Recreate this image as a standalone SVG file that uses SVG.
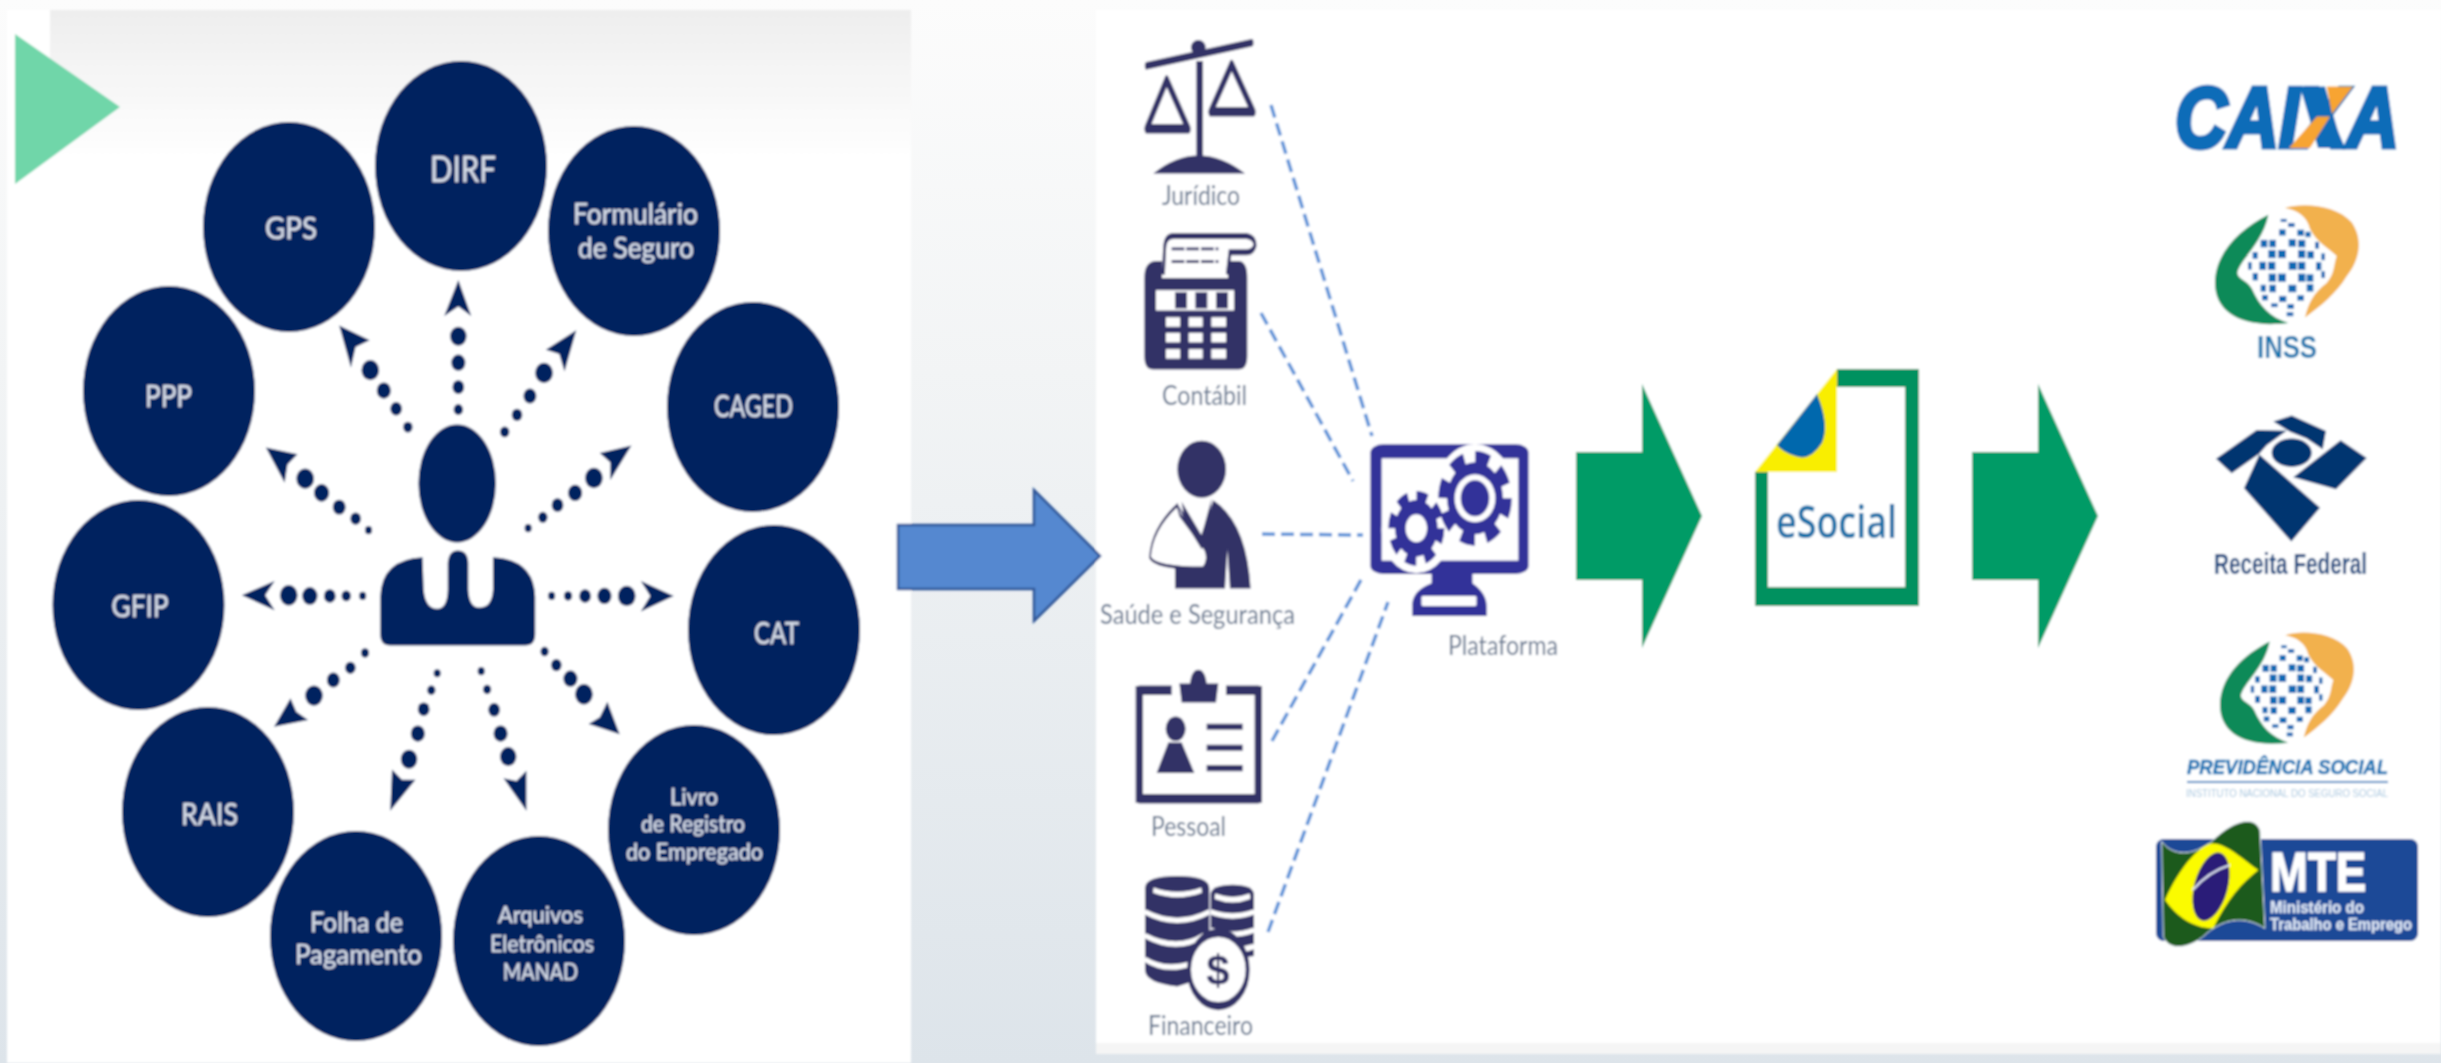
<svg xmlns="http://www.w3.org/2000/svg" xmlns:xlink="http://www.w3.org/1999/xlink" width="2441" height="1063" viewBox="0 0 2441 1063">
<style>
.c{fill:#00215f}
.d{fill:#00215f}
.t{font-family:Lato,"Open Sans",sans-serif;fill:#d6dbe6;stroke:#d6dbe6;stroke-width:.5}
.l{font-family:Lato,"Open Sans",sans-serif;fill:#65768f;font-size:27px}
.i{fill:#333366}
.is{fill:none;stroke:#333366}
.w{fill:#fff}
.g{fill:#059b66}
.m{fill:#333399}
.b{font-family:"Liberation Sans",Arial,sans-serif;font-weight:700}
.dash{fill:none;stroke:#5b93d8;stroke-width:3.5;stroke-dasharray:13 6}
.px{fill:#0f69b4}
</style>
<defs>
<linearGradient id="bg" x1="0" y1="0" x2="0" y2="1"><stop offset="0" stop-color="#fcfcfc"/><stop offset=".35" stop-color="#f2f4f5"/><stop offset="1" stop-color="#dde4ea"/></linearGradient>
<linearGradient id="top" x1="0" y1="0" x2="0" y2="1"><stop offset="0" stop-color="#eeeeee"/><stop offset="1" stop-color="#ffffff"/></linearGradient>
<filter id="soft" x="-2%" y="-2%" width="104%" height="104%"><feGaussianBlur stdDeviation="0.8"/></filter>
<g id="gear"><circle r=".76"/><circle r=".86" fill="none" stroke="#333399" stroke-width=".28" stroke-dasharray=".38 .2954"/></g>
<g id="globe">
<path d="M415,488C330,530 255,600 255,690C255,780 340,825 475,808C420,790 390,760 365,705C350,680 325,680 322,660C330,620 400,570 415,488Z" fill="#078a58"/>
<path d="M465,468C520,450 620,460 665,510C700,560 690,620 650,670C620,720 570,760 525,792C535,750 550,720 590,690C615,660 610,640 620,610C600,590 560,570 540,530C530,490 500,475 465,468Z" fill="#f2b14d"/>
<g class="px">
<rect x="452" y="500" width="18" height="9"/><rect x="474" y="512" width="20" height="12"/>
<rect x="447" y="531" width="20" height="18"/><rect x="502" y="532" width="20" height="18"/><rect x="526" y="538" width="16" height="16"/>
<rect x="392" y="562" width="20" height="22"/><rect x="418" y="562" width="20" height="22"/><rect x="476" y="560" width="22" height="22"/><rect x="504" y="562" width="22" height="22"/><rect x="555" y="568" width="12" height="20"/>
<rect x="368" y="598" width="15" height="20"/><rect x="415" y="592" width="22" height="24"/><rect x="444" y="592" width="24" height="24"/><rect x="504" y="592" width="22" height="24"/><rect x="532" y="595" width="20" height="22"/><rect x="574" y="602" width="11" height="20"/>
<rect x="354" y="628" width="11" height="22"/><rect x="388" y="627" width="20" height="24"/><rect x="414" y="627" width="22" height="24"/><rect x="476" y="627" width="24" height="24"/><rect x="504" y="627" width="22" height="24"/><rect x="558" y="628" width="16" height="24"/>
<rect x="368" y="660" width="16" height="22"/><rect x="416" y="662" width="22" height="24"/><rect x="444" y="662" width="24" height="24"/><rect x="504" y="662" width="22" height="24"/><rect x="530" y="664" width="20" height="22"/><rect x="574" y="655" width="11" height="20"/>
<rect x="392" y="695" width="16" height="20"/><rect x="418" y="695" width="20" height="22"/><rect x="475" y="695" width="24" height="22"/><rect x="530" y="693" width="20" height="22"/>
<rect x="396" y="725" width="18" height="16"/><rect x="447" y="728" width="22" height="18"/><rect x="502" y="726" width="20" height="16"/>
<rect x="423" y="750" width="20" height="11"/><rect x="472" y="752" width="20" height="14"/><rect x="470" y="776" width="20" height="12"/>
</g>
</g>
</defs>
<rect id="background" width="2441" height="1063" fill="url(#bg)"/>
<g filter="url(#soft)">
<g id="panel-left">
<rect x="7" y="10" width="904" height="1053" fill="#fff"/>
<rect x="50" y="10" width="861" height="150" fill="url(#top)"/>
<polygon points="15,34 120,107 15,184" fill="#6fd6a9"/>
</g>
<rect id="panel-right" x="1096" y="10" width="1345" height="1033" fill="#fff"/>
<rect x="1096" y="1043" width="1345" height="11" fill="#f5f5f5"/>

<g id="connectors">
<g transform="scale(.58685,.67797)" class="d">
<circle cx="781" cy="604" r="8"/><circle cx="781" cy="571" r="10"/><circle cx="781" cy="535" r="12"/><circle cx="781" cy="496" r="14"/><polygon points="781,413 803,466 781,452 757,466"/>
<circle cx="695" cy="630" r="8"/><circle cx="675" cy="603" r="10"/><circle cx="654" cy="576" r="12"/><circle cx="631" cy="546" r="15"/><polygon points="578,480 630,502 606,512 598,542"/>
<circle cx="860" cy="637" r="8"/><circle cx="881" cy="612" r="9"/><circle cx="903" cy="584" r="11"/><circle cx="927" cy="550" r="15"/><polygon points="982,487 930,516 953,522 962,548"/>
<circle cx="900" cy="779" r="6"/><circle cx="925" cy="763" r="8"/><circle cx="950" cy="745" r="10"/><circle cx="980" cy="727" r="12"/><circle cx="1012" cy="705" r="15"/><polygon points="1076,657 1022,668 1040,682 1040,708"/>
<circle cx="628" cy="782" r="6"/><circle cx="606" cy="765" r="9"/><circle cx="578" cy="748" r="11"/><circle cx="548" cy="727" r="13"/><circle cx="520" cy="706" r="15"/><polygon points="453,660 507,670 490,685 485,712"/>
<circle cx="618" cy="879" r="6"/><circle cx="590" cy="879" r="8"/><circle cx="562" cy="879" r="10"/><circle cx="528" cy="879" r="13"/><circle cx="492" cy="878" r="15"/><polygon points="412,878 468,857 452,878 468,900"/>
<circle cx="940" cy="879" r="6"/><circle cx="968" cy="879" r="7"/><circle cx="997" cy="879" r="10"/><circle cx="1030" cy="879" r="12"/><circle cx="1068" cy="879" r="15"/><polygon points="1148,879 1092,857 1108,879 1092,902"/>
<circle cx="622" cy="963" r="7"/><circle cx="597" cy="985" r="9"/><circle cx="568" cy="1003" r="11"/><circle cx="535" cy="1026" r="15"/><polygon points="467,1072 495,1030 505,1050 525,1062"/>
<circle cx="928" cy="961" r="7"/><circle cx="948" cy="981" r="9"/><circle cx="972" cy="1001" r="12"/><circle cx="995" cy="1024" r="15"/><polygon points="1056,1083 1035,1035 1022,1058 1003,1068"/>
<circle cx="745" cy="993" r="6"/><circle cx="735" cy="1018" r="7"/><circle cx="722" cy="1046" r="10"/><circle cx="712" cy="1082" r="12"/><circle cx="697" cy="1120" r="14"/><polygon points="665,1196 668,1135 685,1150 708,1150"/>
<circle cx="820" cy="990" r="6"/><circle cx="830" cy="1017" r="7"/><circle cx="842" cy="1047" r="10"/><circle cx="853" cy="1082" r="12"/><circle cx="866" cy="1116" r="14"/><polygon points="897,1196 897,1137 880,1152 858,1148"/>
</g>
<polygon id="arrow-blue" points="898,525 1034,525 1034,490 1100,556 1034,621 1034,589 898,589" fill="#5588d0" stroke="#2f5597" stroke-width="2.500"/>
<line class="dash" x1="1271" y1="105" x2="1372" y2="436"/>
<line class="dash" x1="1261" y1="313" x2="1353" y2="481"/>
<line class="dash" x1="1262" y1="534" x2="1363" y2="535"/>
<line class="dash" x1="1272" y1="741" x2="1362" y2="578"/>
<line class="dash" x1="1268" y1="932" x2="1388" y2="602"/>
<polygon class="g" points="1576,452 1642,452 1642,384 1702,516 1642,648 1642,580 1576,580"/>
<polygon class="g" points="1972,452 2038,452 2038,384 2098,516 2038,648 2038,580 1972,580"/>
</g>

<g id="employee" class="d" transform="scale(.58685,.67797)">
<ellipse cx="779" cy="713" rx="66" ry="87"/>
<path d="M648,935L648,880Q650,825 720,822L722,870Q725,898 745,898Q762,898 763,870L763,830Q765,812 780,812Q797,812 798,830L798,870Q800,898 818,896Q838,896 840,870L840,822Q910,825 912,880L912,935Q912,952 895,952L665,952Q648,952 648,935Z"/>
</g>

<g id="node-dirf"><ellipse class="c" cx="461" cy="166" rx="86" ry="105"/><text class="t" font-size="37" x="430" y="182" textLength="66" lengthAdjust="spacingAndGlyphs">DIRF</text></g>
<g id="node-gps"><ellipse class="c" cx="289" cy="227" rx="86" ry="105"/><text class="t" font-size="31" x="265" y="239" textLength="52" lengthAdjust="spacingAndGlyphs">GPS</text></g>
<g id="node-formulario"><ellipse class="c" cx="634" cy="231" rx="86" ry="105"/><text class="t" font-size="28" x="573" y="224" textLength="125" lengthAdjust="spacingAndGlyphs">Formulário</text><text class="t" font-size="28" x="578" y="258" textLength="116" lengthAdjust="spacingAndGlyphs">de Seguro</text></g>
<g id="node-caged"><ellipse class="c" cx="753" cy="407" rx="86" ry="105"/><text class="t" font-size="31" x="714" y="417" textLength="79" lengthAdjust="spacingAndGlyphs">CAGED</text></g>
<g id="node-ppp"><ellipse class="c" cx="169" cy="391" rx="86" ry="105"/><text class="t" font-size="31" x="145" y="407" textLength="47" lengthAdjust="spacingAndGlyphs">PPP</text></g>
<g id="node-gfip"><ellipse class="c" cx="138.500" cy="605" rx="86" ry="105"/><text class="t" font-size="31" x="111.500" y="617" textLength="57" lengthAdjust="spacingAndGlyphs">GFIP</text></g>
<g id="node-cat"><ellipse class="c" cx="774" cy="630" rx="86" ry="105"/><text class="t" font-size="31" x="754" y="644" textLength="45" lengthAdjust="spacingAndGlyphs">CAT</text></g>
<g id="node-rais"><ellipse class="c" cx="208" cy="812" rx="86" ry="105"/><text class="t" font-size="31" x="181" y="825" textLength="57" lengthAdjust="spacingAndGlyphs">RAIS</text></g>
<g id="node-livro"><ellipse class="c" cx="694" cy="830" rx="86" ry="105"/><text class="t" font-size="23" x="670" y="805" textLength="48" lengthAdjust="spacingAndGlyphs">Livro</text><text class="t" font-size="23" x="641" y="832" textLength="104" lengthAdjust="spacingAndGlyphs">de Registro</text><text class="t" font-size="23" x="626" y="860" textLength="137" lengthAdjust="spacingAndGlyphs">do Empregado</text></g>
<g id="node-folha"><ellipse class="c" cx="356" cy="936" rx="86" ry="105"/><text class="t" font-size="27" x="310" y="932" textLength="93" lengthAdjust="spacingAndGlyphs">Folha de</text><text class="t" font-size="27" x="295" y="964" textLength="127" lengthAdjust="spacingAndGlyphs">Pagamento</text></g>
<g id="node-arquivos"><ellipse class="c" cx="539" cy="941" rx="86" ry="105"/><text class="t" font-size="23" x="498" y="923" textLength="85" lengthAdjust="spacingAndGlyphs">Arquivos</text><text class="t" font-size="23" x="490" y="952" textLength="104" lengthAdjust="spacingAndGlyphs">Eletrônicos</text><text class="t" font-size="23" x="503" y="980" textLength="75" lengthAdjust="spacingAndGlyphs">MANAD</text></g>

<g id="node-juridico">
<g transform="translate(1090,0) scale(.33333,.67797)">
<path class="is" stroke-width="11" stroke-linecap="round" d="M170,97L485,63"/>
<ellipse class="i" cx="325" cy="70" rx="22" ry="11"/>
<rect class="i" x="319" y="90" width="20" height="140"/>
<path class="i" d="M190,256Q325,203 465,256Z"/>
<path class="is" stroke-width="14" stroke-linejoin="round" d="M230,118L170,190L295,190Z"/>
<path class="is" stroke-width="14" stroke-linejoin="round" d="M425,95L362,165L490,165Z"/>
</g>
<text class="l" x="1162" y="205" textLength="78" lengthAdjust="spacingAndGlyphs">Jurídico</text>
</g>
<g id="node-contabil">
<g transform="translate(1090,0) scale(.33333,.67797)">
<path class="is" stroke-width="9" d="M220,405L224,365Q226,348 250,348L470,348Q495,350 495,362Q490,372 470,372L420,372L412,405"/>
<path class="is" stroke-width="4" stroke-dasharray="38 6" d="M245,367H385M245,386H385"/>
<path class="i" d="M163,410Q163,385 200,385L216,385L216,410L414,410L414,385L445,385Q472,385 472,410L472,525Q472,545 445,545L190,545Q163,545 163,525Z"/>
<rect class="w" x="198" y="428" width="234" height="30"/>
<rect class="i" x="255" y="431" width="36" height="24"/><rect class="i" x="316" y="431" width="36" height="24"/><rect class="i" x="378" y="431" width="36" height="24"/>
<g class="w"><rect x="228" y="468" width="42" height="14"/><rect x="296" y="468" width="42" height="14"/><rect x="364" y="468" width="44" height="14"/><rect x="228" y="491" width="42" height="14"/><rect x="296" y="491" width="42" height="14"/><rect x="364" y="491" width="44" height="14"/><rect x="228" y="515" width="42" height="14"/><rect x="296" y="515" width="42" height="14"/><rect x="364" y="515" width="44" height="14"/></g>
</g>
<text class="l" x="1162" y="405" textLength="85" lengthAdjust="spacingAndGlyphs">Contábil</text>
</g>
<g id="node-saude">
<g transform="translate(1090,0) scale(.33333,.67797)">
<ellipse class="i" cx="335" cy="692" rx="73" ry="42"/>
<path class="i" d="M265,745L330,795L370,738Q470,770 482,868L420,868L412,810L405,868L255,868L255,835L340,835L350,815L300,790Z"/>
<path d="M262,745Q185,780 180,822Q195,838 340,838Q358,825 345,810L270,760Z" fill="#fff" stroke="#333366" stroke-width="5"/>
<path class="i" d="M275,740L335,790L365,735L350,790L335,810L285,770Z"/>
</g>
<text class="l" x="1100" y="624" textLength="195" lengthAdjust="spacingAndGlyphs">Saúde e Segurança</text>
</g>
<g id="node-pessoal">
<g transform="translate(1090,0) scale(.33333,.67797)">
<path class="is" stroke-width="14" stroke-linejoin="round" d="M245,1018L148,1018L148,1178L505,1178L505,1018L408,1018"/>
<path class="is" stroke-width="22" d="M148,1012V1184M505,1012V1184"/>
<path class="i" d="M268,1008L300,1008Q305,988 325,988Q345,988 350,1008L385,1008L378,1036L275,1036Z"/>
<ellipse class="i" cx="257" cy="1075" rx="30" ry="18"/>
<path class="i" d="M200,1140L235,1095L275,1095L313,1140Z"/>
<path class="is" stroke-width="9" d="M350,1072H458M350,1103H458M350,1133H458"/>
</g>
<text class="l" x="1151" y="836" textLength="75" lengthAdjust="spacingAndGlyphs">Pessoal</text>
</g>
<g id="node-financeiro">
<g transform="translate(1090,0) scale(.33333,.67797)">
<path class="i" d="M362,1320Q362,1305 428,1305Q492,1305 492,1320L492,1410L362,1420Z"/>
<path class="i" d="M165,1310Q165,1292 262,1292Q358,1292 358,1310L358,1440L262,1455Q165,1450 165,1430Z"/>
<path fill="none" stroke="#fff" stroke-width="8" d="M190,1313Q262,1326 335,1313M165,1345Q262,1370 358,1345M165,1380Q262,1405 340,1380M165,1415Q230,1435 310,1420M375,1322Q428,1332 480,1322M362,1345Q428,1357 492,1345M362,1372Q428,1384 492,1372M362,1396Q420,1407 492,1396"/>
<ellipse cx="385" cy="1430" rx="88" ry="54" fill="#fff" stroke="#333366" stroke-width="12"/>
</g>
<text font-family="Liberation Sans,sans-serif" font-weight="700" font-size="42" x="1218" y="985" text-anchor="middle" fill="#333366">$</text>
<text class="l" x="1148" y="1035" textLength="105" lengthAdjust="spacingAndGlyphs">Financeiro</text>
</g>
<g id="node-plataforma">
<g transform="translate(1350,350) scale(.5102,.33333)">
<rect class="m" x="40" y="283" width="310" height="389" rx="25"/>
<rect class="w" x="62" y="325" width="268" height="307"/>
<path class="m" d="M160,665L240,665L240,700Q268,730 268,770L268,798L122,798L122,760Q125,720 160,700Z"/>
<rect class="w" x="140" y="738" width="108" height="30" rx="4"/>
<ellipse class="w" cx="245" cy="450" rx="82" ry="168"/>
<ellipse class="w" cx="130" cy="540" rx="68" ry="130"/>
<use xlink:href="#gear" href="#gear" class="m" transform="translate(245,445) scale(72,142)"/>
<ellipse class="w" cx="245" cy="445" rx="40" ry="72"/><ellipse class="m" cx="245" cy="445" rx="28" ry="54"/>
<use xlink:href="#gear" href="#gear" class="m" transform="translate(130,535) scale(55,112)"/>
<ellipse class="w" cx="130" cy="535" rx="21" ry="42"/>
</g>
<text class="l" x="1448" y="655" textLength="110" lengthAdjust="spacingAndGlyphs">Plataforma</text>
</g>
<g id="node-esocial">
<path d="M1837,369H1919V606H1755V472H1768V587H1905V387H1837Z" fill="#00915f"/>
<polygon points="1837,369 1837,472 1755,472" fill="#f9ee00"/>
<path d="M1817,394Q1830,425 1822,443Q1810,462 1795,456Q1782,452 1777,445Z" fill="#0068ad"/>
<text x="1776" y="538" font-family="Open Sans,Noto Sans,sans-serif" font-weight="600" font-size="46" fill="#0f6fa8" textLength="121" lengthAdjust="spacingAndGlyphs">eSocial</text>
</g>
<g id="node-caixa">
<text class="b" x="2175" y="147" font-size="86" font-style="italic" fill="#0a6cb8" stroke="#0a6cb8" stroke-width="5" textLength="224" lengthAdjust="spacingAndGlyphs">CAIXA</text>
<polygon points="2300,86.500 2325,86.500 2343,148 2318,148" fill="#0a6cb8"/>
<polygon points="2326.700,86.500 2353,86.500 2332,114" fill="#f7a433"/>
<polygon points="2330,116.500 2310,148 2289,148 2317,116.500" fill="#f7a433"/>
</g>
<g id="node-inss">
<use xlink:href="#globe" href="#globe" transform="translate(2130,50) scale(.33333,.33784)"/>
<text class="b" x="2257" y="358" font-size="32" fill="#1878b0" textLength="60" lengthAdjust="spacingAndGlyphs">INSS</text>
</g>
<g id="node-receita">
<g transform="translate(2130,50) scale(.33333,.33784)" fill="#003670">
<polygon points="430,1100 485,1082 588,1128 578,1182 530,1150 480,1130"/>
<polygon points="258,1210 380,1125 470,1127 410,1170 388,1195 305,1253"/>
<ellipse cx="485" cy="1192" rx="60" ry="42"/>
<polygon points="490,1265 632,1155 710,1208 618,1300"/>
<polygon points="388,1197 570,1355 484,1455 342,1297"/>
</g>
<text class="b" x="2214" y="574" font-size="30" fill="#1c4b82" textLength="153" lengthAdjust="spacingAndGlyphs">Receita Federal</text>
</g>
<g id="node-previdencia">
<use xlink:href="#globe" href="#globe" transform="translate(2140.900,487.300) scale(.3103,.316)"/>
<text class="b" x="2187" y="774" font-size="20" font-style="italic" fill="#1676b6" stroke="#1676b6" stroke-width=".6" textLength="201" lengthAdjust="spacingAndGlyphs">PREVIDÊNCIA SOCIAL</text>
<line x1="2187" y1="782" x2="2388" y2="782" stroke="#2a86c5" stroke-width="2"/>
<text x="2186" y="797" font-family="Liberation Sans,sans-serif" font-size="11" fill="#a9c8e0" textLength="202" lengthAdjust="spacingAndGlyphs">INSTITUTO NACIONAL DO SEGURO SOCIAL</text>
</g>
<g id="node-mte">
<rect x="2156" y="839" width="262" height="102" rx="8" fill="#1c4a97"/>
<g transform="translate(2130,600) scale(.33333)">
<path d="M95,725C130,770 190,770 250,720C300,670 370,640 390,690L405,985C350,950 290,950 230,1000C190,1040 120,1060 100,1010Z" fill="#1c5a1e" stroke="#dfe6f2" stroke-width="3"/>
<path d="M105,900C150,800 205,740 245,730C290,730 340,780 385,810C335,850 290,900 250,985C190,985 140,950 105,900Z" fill="#fbfb00"/>
<ellipse cx="243" cy="860" rx="50" ry="105" transform="rotate(15 243 860)" fill="#2a1a78"/>
<path d="M188,870Q235,815 300,795" fill="none" stroke="#dfe6f2" stroke-width="6"/>
</g>
<text class="b" x="2270" y="891" font-size="56" fill="#fff" stroke="#fff" stroke-width="1.500" textLength="96" lengthAdjust="spacingAndGlyphs">MTE</text>
<text class="b" x="2270" y="913" font-size="16" fill="#dfe7f5" stroke="#dfe7f5" stroke-width=".4" textLength="94" lengthAdjust="spacingAndGlyphs">Ministério do</text>
<text class="b" x="2270" y="930" font-size="16" fill="#dfe7f5" stroke="#dfe7f5" stroke-width=".4" textLength="142" lengthAdjust="spacingAndGlyphs">Trabalho e Emprego</text>
</g>
</g>
</svg>
